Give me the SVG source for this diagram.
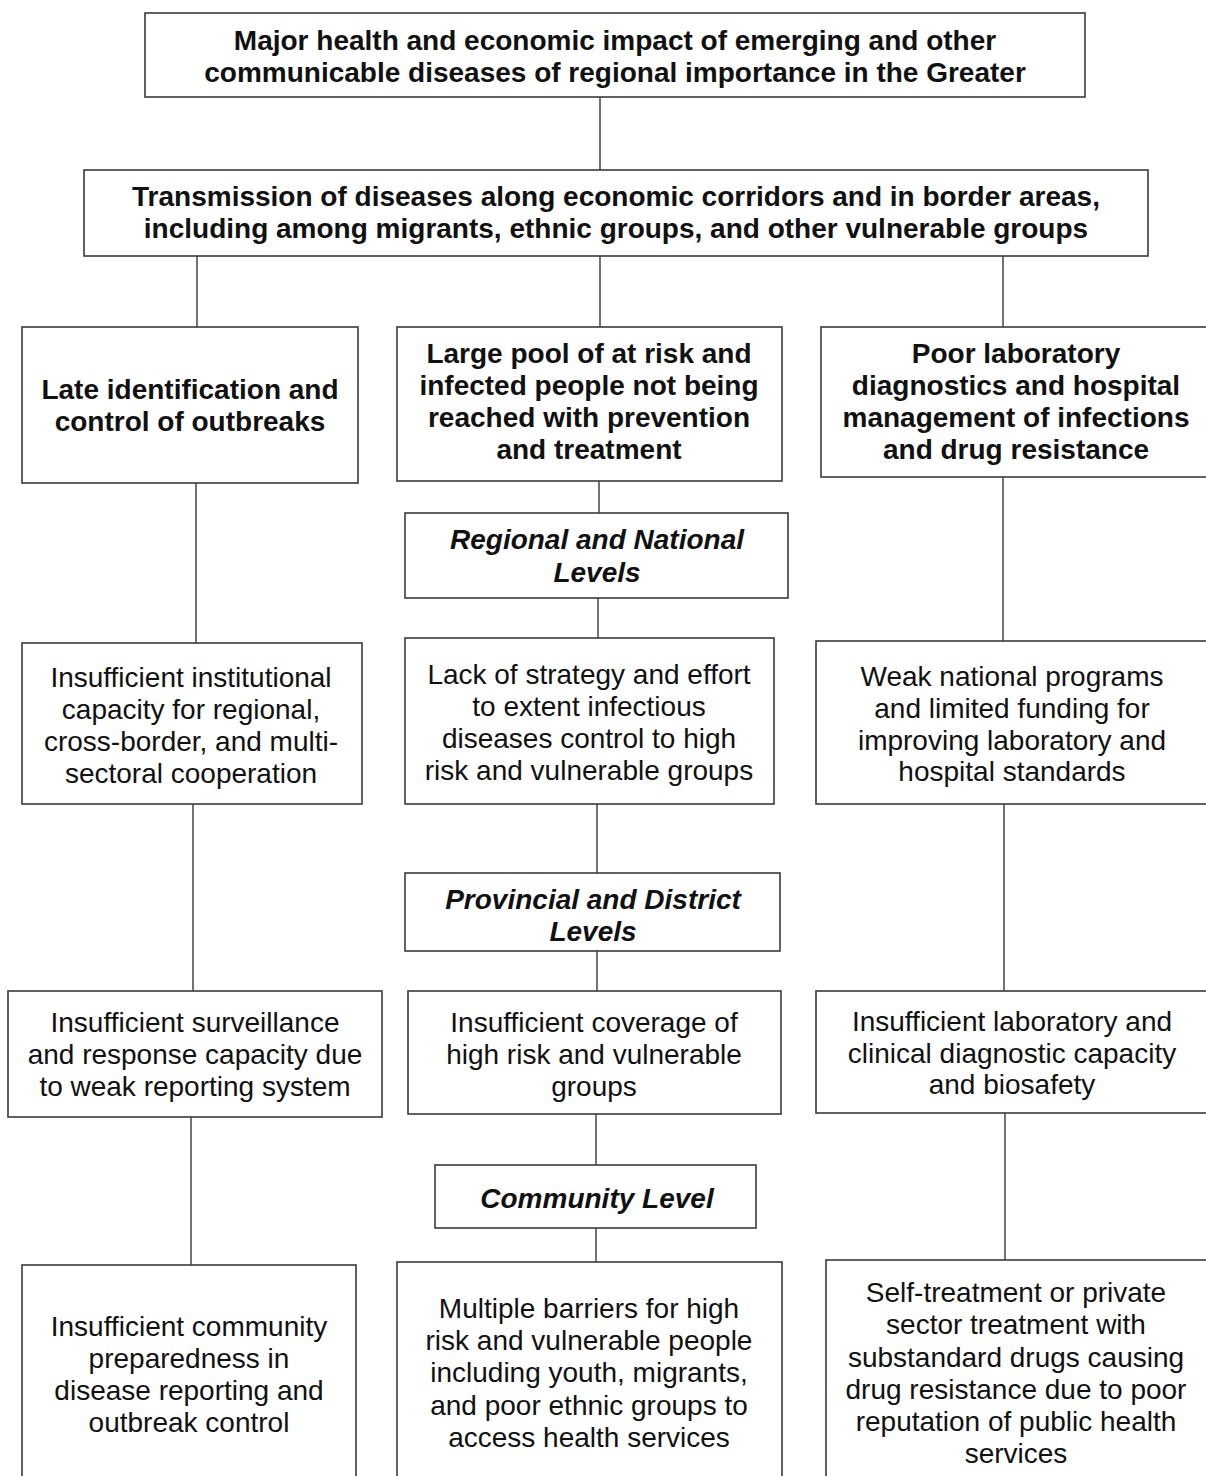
<svg xmlns="http://www.w3.org/2000/svg" width="1206" height="1476" viewBox="0 0 1206 1476">
<style>
.box{fill:#fff;stroke:#3a3a3a;stroke-width:1.6}
.c{stroke:#3a3a3a;stroke-width:1.4;fill:none}
text{font-family:"Liberation Sans",Arial,sans-serif;font-size:28px;fill:#111;text-anchor:middle}
.b{font-weight:bold}
.bi{font-weight:bold;font-style:italic}
</style>
<rect width="1206" height="1476" fill="#fff"/>
<g id="connectors">
<line class="c" x1="600" y1="97" x2="600" y2="170"/>
<line class="c" x1="197" y1="256" x2="197" y2="327"/>
<line class="c" x1="600" y1="256" x2="600" y2="327"/>
<line class="c" x1="1003" y1="256" x2="1003" y2="327"/>
<line class="c" x1="599" y1="481" x2="599" y2="513"/>
<line class="c" x1="196" y1="483" x2="196" y2="643"/>
<line class="c" x1="1003" y1="477" x2="1003" y2="641"/>
<line class="c" x1="598" y1="598" x2="598" y2="638"/>
<line class="c" x1="193" y1="804" x2="193" y2="991"/>
<line class="c" x1="597" y1="804" x2="597" y2="873"/>
<line class="c" x1="1004" y1="804" x2="1004" y2="991"/>
<line class="c" x1="597" y1="951" x2="597" y2="991"/>
<line class="c" x1="596" y1="1114" x2="596" y2="1165"/>
<line class="c" x1="191" y1="1117" x2="191" y2="1265"/>
<line class="c" x1="1005" y1="1113" x2="1005" y2="1260"/>
<line class="c" x1="596" y1="1228" x2="596" y2="1262"/>
</g>
<g id="n1"><rect class="box" x="145" y="13" width="940" height="84"/>
<text class="b" x="615" y="50">Major health and economic impact of emerging and other</text>
<text class="b" x="615" y="82">communicable diseases of regional importance in the Greater</text></g>
<g id="n2"><rect class="box" x="84" y="170" width="1064" height="86"/>
<text class="b" x="616" y="206">Transmission of diseases along economic corridors and in border areas,</text>
<text class="b" x="616" y="238">including among migrants, ethnic groups, and other vulnerable groups</text></g>
<g id="n3"><rect class="box" x="22" y="327" width="336" height="156"/>
<text class="b" x="190" y="399">Late identification and</text>
<text class="b" x="190" y="431">control of outbreaks</text></g>
<g id="n4"><rect class="box" x="397" y="327" width="385" height="154"/>
<text class="b" x="589" y="363">Large pool of at risk and</text>
<text class="b" x="589" y="395">infected people not being</text>
<text class="b" x="589" y="427">reached with prevention</text>
<text class="b" x="589" y="459">and treatment</text></g>
<g id="n5"><rect class="box" x="821" y="327" width="390" height="150"/>
<text class="b" x="1016" y="363">Poor laboratory</text>
<text class="b" x="1016" y="395">diagnostics and hospital</text>
<text class="b" x="1016" y="427">management of infections</text>
<text class="b" x="1016" y="459">and drug resistance</text></g>
<g id="n6"><rect class="box" x="405" y="513" width="383" height="85"/>
<text class="bi" x="597" y="549">Regional and National</text>
<text class="bi" x="597" y="582">Levels</text></g>
<g id="n7"><rect class="box" x="22" y="643" width="340" height="161"/>
<text x="191" y="687">Insufficient institutional</text>
<text x="191" y="719">capacity for regional,</text>
<text x="191" y="751">cross-border, and multi-</text>
<text x="191" y="783">sectoral cooperation</text></g>
<g id="n8"><rect class="box" x="405" y="638" width="369" height="166"/>
<text x="589" y="684">Lack of strategy and effort</text>
<text x="589" y="716">to extent infectious</text>
<text x="589" y="748">diseases control to high</text>
<text x="589" y="780">risk and vulnerable groups</text></g>
<g id="n9"><rect class="box" x="816" y="641" width="395" height="163"/>
<text x="1012" y="686">Weak national programs</text>
<text x="1012" y="718">and limited funding for</text>
<text x="1012" y="750">improving laboratory and</text>
<text x="1012" y="781">hospital standards</text></g>
<g id="n10"><rect class="box" x="405" y="873" width="375" height="78"/>
<text class="bi" x="593" y="909">Provincial and District</text>
<text class="bi" x="593" y="941">Levels</text></g>
<g id="n11"><rect class="box" x="8" y="991" width="374" height="126"/>
<text x="195" y="1032">Insufficient surveillance</text>
<text x="195" y="1064">and response capacity due</text>
<text x="195" y="1096">to weak reporting system</text></g>
<g id="n12"><rect class="box" x="408" y="991" width="373" height="123"/>
<text x="594" y="1032">Insufficient coverage of</text>
<text x="594" y="1064">high risk and vulnerable</text>
<text x="594" y="1096">groups</text></g>
<g id="n13"><rect class="box" x="816" y="991" width="395" height="122"/>
<text x="1012" y="1031">Insufficient laboratory and</text>
<text x="1012" y="1063">clinical diagnostic capacity</text>
<text x="1012" y="1094">and biosafety</text></g>
<g id="n14"><rect class="box" x="435" y="1165" width="321" height="63"/>
<text class="bi" x="597" y="1208">Community Level</text></g>
<g id="n15"><rect class="box" x="22" y="1265" width="334" height="220"/>
<text x="189" y="1336">Insufficient community</text>
<text x="189" y="1368">preparedness in</text>
<text x="189" y="1400">disease reporting and</text>
<text x="189" y="1432">outbreak control</text></g>
<g id="n16"><rect class="box" x="397" y="1262" width="385" height="223"/>
<text x="589" y="1318">Multiple barriers for high</text>
<text x="589" y="1350">risk and vulnerable people</text>
<text x="589" y="1382">including youth, migrants,</text>
<text x="589" y="1415">and poor ethnic groups to</text>
<text x="589" y="1447">access health services</text></g>
<g id="n17"><rect class="box" x="826" y="1260" width="385" height="225"/>
<text x="1016" y="1302">Self-treatment or private</text>
<text x="1016" y="1334">sector treatment with</text>
<text x="1016" y="1367">substandard drugs causing</text>
<text x="1016" y="1399">drug resistance due to poor</text>
<text x="1016" y="1431">reputation of public health</text>
<text x="1016" y="1463">services</text></g>
</svg>
